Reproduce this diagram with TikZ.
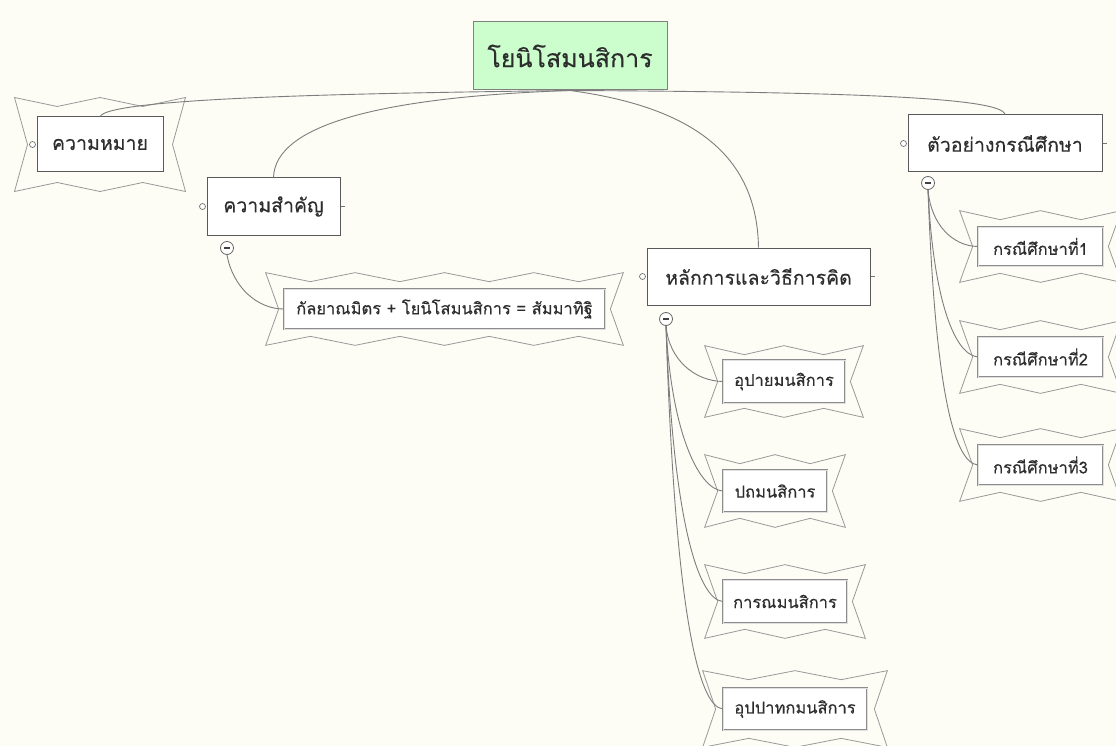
\documentclass[tikz,border=0pt]{standalone}
\usepackage{fontspec}
\newfontfamily\thaifont[Script=Thai, FakeBold=0.3]{Loma}
\usetikzlibrary{calc}

\definecolor{paper}{RGB}{253,253,246}
\definecolor{rootgreen}{RGB}{204,253,204}
\definecolor{wire}{RGB}{125,125,125}
\definecolor{ink}{RGB}{45,45,45}

\tikzset{
  rootbox/.style={draw=black!50, fill=rootgreen, line width=1pt, inner sep=0pt,
    font=\thaifont\fontsize{25}{30}\selectfont, text=ink},
  topic/.style={draw=black!65, fill=white, line width=1pt, inner sep=0pt,
    font=\thaifont\fontsize{19.5}{23}\selectfont, text=ink},
  subtopic/.style={draw=black!45, double=black!12, double distance=0.6pt, line width=0.7pt,
    fill=white, inner sep=0pt, font=\thaifont\fontsize{16.5}{20}\selectfont, text=ink},
  conn/.style={draw=wire, line width=0.9pt},
  zig/.style={draw=black!40, line width=0.8pt, line join=miter},
  port/.style={circle, draw=black!55, fill=white, minimum size=6pt, inner sep=0pt, line width=0.7pt},
  tick/.style={draw=black!55, line width=0.8pt},
  fold/.style={circle, draw=black!60, fill=white, minimum size=13pt, inner sep=0pt, line width=0.8pt,
    path picture={\draw[black!75, line width=1.7pt]
      ([xshift=-3.2pt]path picture bounding box.center) -- ([xshift=3.2pt]path picture bounding box.center);}},
}

% zigzag burst frame around a node: node, teeth, horizontal margin, vertical margin
\newcommand\zigframe[4]{%
  \pgfpointanchor{#1}{north west}\pgfgetlastxy{\zfx}{\zfy}%
  \pgfmathsetmacro\zfL{\zfx-#3pt}%
  \pgfmathsetmacro\zfT{\zfy+#4pt}%
  \pgfpointanchor{#1}{south east}\pgfgetlastxy{\zfx}{\zfy}%
  \pgfmathsetmacro\zfR{\zfx+#3pt}%
  \pgfmathsetmacro\zfB{\zfy-#4pt}%
  \pgfmathsetmacro\zfS{(\zfR-\zfL)/(2*#2)}%
  \pgfmathsetmacro\zfM{(\zfT+\zfB)/2}%
  \pgfmathtruncatemacro\zfN{2*#2}%
  \draw[zig] ({\zfL*1pt},{\zfT*1pt})
    \foreach \i in {1,...,\zfN} { -- ({(\zfL+\i*\zfS)*1pt},{(\zfT-9*mod(\i,2))*1pt}) }
    -- ({(\zfR-13)*1pt},{\zfM*1pt}) -- ({\zfR*1pt},{\zfB*1pt})
    \foreach \i in {1,...,\zfN} { -- ({(\zfR-\i*\zfS)*1pt},{(\zfB+9*mod(\i,2))*1pt}) }
    -- ({(\zfL+13)*1pt},{\zfM*1pt}) -- cycle;%
}

\begin{document}
\begin{tikzpicture}[x=1pt,y=-1pt]
  \fill[paper] (0,0) rectangle (1116,746);
  \clip (0,0) rectangle (1116,746);

  % central topic
  \node[rootbox, minimum width=194pt, minimum height=68pt] (root) at (570,56) {โยนิโสมนสิการ};

  % main topics
  \node[topic, minimum width=126pt, minimum height=55pt] (meaning) at (100,144.5) {ความหมาย};
  \node[topic, minimum width=133pt, minimum height=57pt] (importance) at (273.5,206.5) {ความสำคัญ};
  \node[topic, minimum width=223pt, minimum height=57pt] (principles) at (758.5,276.5) {หลักการและวิธีการคิด};
  \node[topic, minimum width=194pt, minimum height=57pt] (cases) at (1005,143.5) {ตัวอย่างกรณีศึกษา};

  % subtopics
  \node[subtopic, minimum width=321pt, minimum height=40pt] (equation) at (444.5,309) {กัลยาณมิตร + โยนิโสมนสิการ = สัมมาทิฐิ};
  \node[subtopic, minimum width=122pt, minimum height=43pt] (upaya) at (784,381.5) {อุปายมนสิการ};
  \node[subtopic, minimum width=104pt, minimum height=42pt] (patha) at (775,491) {ปถมนสิการ};
  \node[subtopic, minimum width=124pt, minimum height=43pt] (karana) at (785,601.5) {การณมนสิการ};
  \node[subtopic, minimum width=144pt, minimum height=42pt] (uppadaka) at (795,709) {อุปปาทกมนสิการ};
  \node[subtopic, minimum width=125pt, minimum height=39pt] (case1) at (1040.5,246.5) {กรณีศึกษาที่1};
  \node[subtopic, minimum width=125pt, minimum height=40pt] (case2) at (1040.5,357) {กรณีศึกษาที่2};
  \node[subtopic, minimum width=125pt, minimum height=40pt] (case3) at (1040.5,465) {กรณีศึกษาที่3};

  % burst frames
  \zigframe{meaning}{2}{22}{19}
  \zigframe{equation}{4}{18}{16}
  \zigframe{upaya}{2}{18}{14}
  \zigframe{patha}{2}{18}{15}
  \zigframe{karana}{2}{18}{15}
  \zigframe{uppadaka}{2}{20}{17}
  \zigframe{case1}{2}{18}{16}
  \zigframe{case2}{2}{18}{16}
  \zigframe{case3}{2}{18}{16}

  % collapse markers
  \node[fold] (foldimp) at (227,248) {};
  \node[fold] (foldpri) at (666,319) {};
  \node[fold] (foldcas) at (928,183) {};

  % branches from the central topic
  \draw[conn] (root.south) .. controls (380,93) and (110,97) .. (meaning.north);
  \draw[conn] (root.south) .. controls (380,97) and (275,125) .. (importance.north);
  \draw[conn] (root.south) .. controls (700,108) and (757,160) .. (principles.north);
  \draw[conn] (root.south) .. controls (860,92) and (1002,98) .. (cases.north);

  % branches to subtopics
  \draw[conn] (foldimp.south) .. controls (233,288) and (258,309) .. (equation.west);
  \draw[conn] (foldpri.south) .. controls (669,360) and (695,381) .. (upaya.west);
  \draw[conn] (foldpri.south) .. controls (671,430) and (698,489) .. (patha.west);
  \draw[conn] (foldpri.south) .. controls (673,520) and (698,599) .. (karana.west);
  \draw[conn] (foldpri.south) .. controls (675,610) and (698,706) .. (uppadaka.west);
  \draw[conn] (foldcas.south) .. controls (931,225) and (953,246) .. (case1.west);
  \draw[conn] (foldcas.south) .. controls (933,295) and (953,354) .. (case2.west);
  \draw[conn] (foldcas.south) .. controls (935,385) and (953,462) .. (case3.west);

  % attachment points
  \node[port] (pmeaning) at ([xshift=-4pt]meaning.west) {};
  \node[port] (pimportance) at ([xshift=-4pt]importance.west) {};
  \node[port] (pprinciples) at ([xshift=-4pt]principles.west) {};
  \node[port] (pcases) at ([xshift=-4pt]cases.west) {};
  \coordinate (timportance) at ([xshift=4pt]importance.east);
  \coordinate (tprinciples) at ([xshift=4pt]principles.east);
  \coordinate (tcases) at ([xshift=4pt]cases.east);
  \draw[tick] (importance.east) -- (timportance);
  \draw[tick] (principles.east) -- (tprinciples);
  \draw[tick] (cases.east) -- (tcases);
\end{tikzpicture}
\end{document}
